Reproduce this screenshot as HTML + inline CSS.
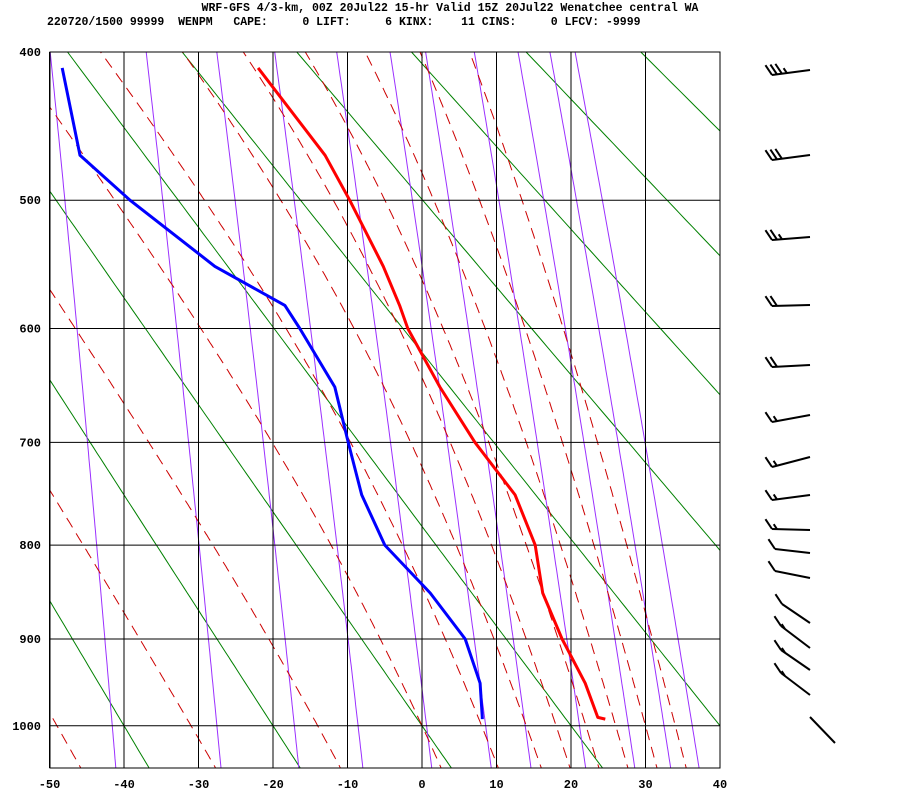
<!DOCTYPE html>
<html><head><meta charset="utf-8"><style>
body{margin:0;background:#fff;}
svg{display:block;font-family:"Liberation Mono",monospace;font-weight:bold;}
</style></head><body>
<svg id="c" width="900" height="800" xmlns="http://www.w3.org/2000/svg">
<text x="450" y="11" font-size="11.5" text-anchor="middle">WRF-GFS 4/3-km, 00Z 20Jul22 15-hr Valid 15Z 20Jul22 Wenatchee central WA</text>
<text x="47" y="25" font-size="11.5" xml:space="preserve">220720/1500 99999  WENPM   CAPE:     0 LIFT:     6 KINX:    11 CINS:     0 LFCV: -9999</text>
<defs><clipPath id="cp"><rect x="50" y="52" width="670" height="716"/></clipPath></defs>
<g id="bg" clip-path="url(#cp)"></g>
<g id="grid"></g>
<g id="data" clip-path="url(#cp)"></g>
<g id="barbs" stroke="#000" stroke-width="2" fill="none"></g>
<rect x="50" y="52" width="670" height="716" fill="none" stroke="#000" stroke-width="1"/>
</svg>
<script>
const pLevels=[410,468,500,550,581,600,650,700,750,800,850,900,950,990,992];
const tempC=[-22.0,-13.0,-9.7,-5.2,-3.0,-1.9,2.4,7.1,12.5,15.2,16.2,18.8,21.9,23.6,24.6];
const dewpC=[-48.3,-45.9,-39.2,-27.8,-18.4,-16.4,-11.7,-9.9,-8.1,-5.0,1.1,5.8,7.8,8.1,8.1];
const pressureTicks=[400,500,600,700,800,900,1000];
const tempTicks=[-50,-40,-30,-20,-10,0,10,20,30,40];
const thetaC=[-40,-20,0,20,40,60,80,100,120,140];
const mixRatios=[0.1,0.4,1,2,4,7,10,16,24,32,40];
const thetaW=[-49,-31,-14,0,8,14,18,22,26,30,34];

const NS="http://www.w3.org/2000/svg";
const K=0.286, P0=Math.pow(400,K);
function yOf(p){return 52+405.3*(Math.pow(p,K)-P0);}
function xOf(t){return 422+t*7.45;}
function el(tag,attrs,parent){const e=document.createElementNS(NS,tag);for(const k in attrs)e.setAttribute(k,attrs[k]);parent.appendChild(e);return e;}
function ptsStr(arr){return arr.map(a=>a[0].toFixed(1)+','+a[1].toFixed(1)).join(' ');}
const bg=document.getElementById('bg'),grid=document.getElementById('grid'),data=document.getElementById('data');
const pList=[];for(let p=380;p<=1060;p+=5)pList.push(p);

thetaC.forEach(th=>{
  const pts=pList.map(p=>[xOf((th+273.15)*Math.pow(p/1000,K)-273.15),yOf(p)]);
  const e=el('polyline',{points:ptsStr(pts),fill:'none',stroke:'#008000','stroke-width':1},bg);
  
  
});
function es(t){return 6.112*Math.exp(17.67*t/(t+243.5));}
function tFromW(w,p){const e=w*p/(622+w);const l=Math.log(e/6.112);return 243.5*l/(17.67-l);}
mixRatios.forEach(w=>{
  const pts=pList.map(p=>[xOf(tFromW(w,p)),yOf(p)]);
  const e=el('polyline',{points:ptsStr(pts),fill:'none',stroke:'#9b30ff','stroke-width':1},bg);
  
  
});
function dTdp(T,p){const t=T-273.15;const rs=0.622*es(t)/(p-es(t));const Rd=287,cp=1004,Lv=2.5e6;
  return (Rd*T+Lv*rs)/(p*(cp+Lv*Lv*rs*0.622/(Rd*T*T)));}
thetaW.forEach(tw=>{
  const up=[],dn=[];let T=tw+273.15;
  for(let p=1000;p>=380;p-=2){up.push([xOf(T-273.15),yOf(p)]);T-=2*dTdp(T,p);}
  T=tw+273.15;
  for(let p=1000;p<=1060;p+=2){dn.push([xOf(T-273.15),yOf(p)]);T+=2*dTdp(T,p);}
  const pts=dn.reverse().concat(up);
  const e=el('polyline',{points:ptsStr(pts),fill:'none',stroke:'#cc0000','stroke-width':1,'stroke-dasharray':'11,7'},bg);
  
  
});
tempTicks.forEach(t=>{
  const x=xOf(t);
  const l=el('line',{x1:x,x2:x,y1:52,y2:768,stroke:'#000','stroke-width':1},grid);
  
  
  const tx=el('text',{x:x,y:788,'font-size':12,'text-anchor':'middle'},grid);
  tx.textContent=t;
  
  
});
pressureTicks.forEach(p=>{
  const y=yOf(p);
  const l=el('line',{x1:50,x2:720,y1:y,y2:y,stroke:'#000','stroke-width':1},grid);
  
  
  const tx=el('text',{x:41,y:y+4,'font-size':12,'text-anchor':'end'},grid);
  tx.textContent=p;
  
  
});
const tp=el('polyline',{points:ptsStr(pLevels.map((p,i)=>[xOf(tempC[i]),yOf(p)])),fill:'none',stroke:'#ff0000','stroke-width':3,'stroke-linejoin':'round'},data);


const dp=el('polyline',{points:ptsStr(pLevels.map((p,i)=>[xOf(dewpC[i]),yOf(p)])),fill:'none',stroke:'#0000ff','stroke-width':3,'stroke-linejoin':'round'},data);


const barbs=[[810,70,772,75,3,1],[810,155,772,160,3,0],[810,237,772,240,2,1],[810,305,772,306,2,0],[810,365,772,367,2,0],[810,415,772,422,1,1],[810,457,772,467,1,1],[810,495,772,500,1,1],[810,530,772,529,1,1],[810,553,775,549,1,0],[810,578,775,571,1,0],[810,623,782,604,1,0],[810,648,781,626,1,1],[810,670,781,650,1,1],[810,695,781,673,1,1]];
const bg2=document.getElementById('barbs');
barbs.forEach(b=>{
  const [bx,by,tx,ty,nf,nh]=b;
  const g=el('g',{},bg2);
  
  
  el('line',{x1:bx,y1:by,x2:tx,y2:ty},g);
  const dx=(bx-tx),dy=(by-ty),L=Math.hypot(dx,dy),ux=dx/L,uy=dy/L;
  for(let i=0;i<nf+nh;i++){
    const sx=tx+ux*i*5,sy=ty+uy*i*5;const len=i<nf?12:6;
    el('line',{x1:sx,y1:sy,x2:sx-6*len/11,y2:sy-9*len/11},g);
  }
});
const calm=el('line',{x1:810,y1:717,x2:835,y2:743},bg2);


</script>
</body></html>
